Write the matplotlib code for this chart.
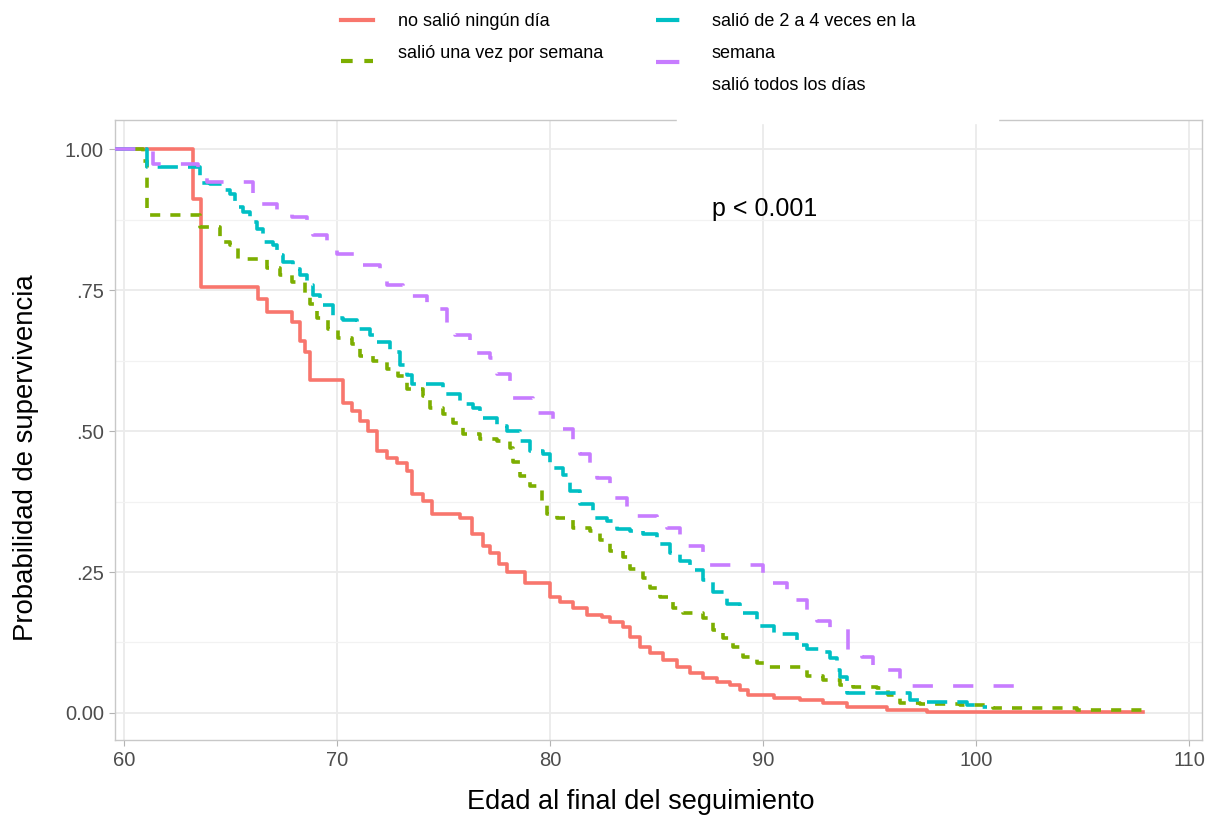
import numpy as np
import matplotlib.pyplot as plt
from matplotlib.lines import Line2D
from matplotlib.patches import Rectangle

plt.rcParams['font.family'] = ['Liberation Sans', 'DejaVu Sans']

# Kaplan-Meier estimates (time, survival after step)
t_ninguno = [59.58, 63.24, 63.62, 66.29, 66.71, 67.89, 68.26, 68.5, 68.73, 70.28,
             70.7, 71.08, 71.46, 71.88, 72.35, 72.82, 73.29, 73.52, 74.04, 74.46,
             75.77, 76.34, 76.85, 77.2, 77.6, 77.98, 78.83, 80.0, 80.47, 81.08,
             81.74, 82.44, 82.82, 83.43, 83.76, 84.23, 84.69, 85.31, 85.96, 86.57,
             87.18, 87.84, 88.45, 88.92, 89.3, 90.5, 91.74, 92.82, 93.94, 95.82,
             97.7, 107.84]
s_ninguno = [1.0, 0.912, 0.755, 0.735, 0.712, 0.694, 0.66, 0.64, 0.59, 0.55,
             0.535, 0.518, 0.50, 0.465, 0.452, 0.443, 0.43, 0.389, 0.376, 0.353,
             0.345, 0.318, 0.297, 0.283, 0.265, 0.25, 0.23, 0.205, 0.196, 0.186,
             0.173, 0.17, 0.161, 0.152, 0.134, 0.117, 0.106, 0.094, 0.081, 0.07,
             0.062, 0.055, 0.049, 0.04, 0.032, 0.027, 0.023, 0.018, 0.011, 0.005,
             0.002, 0.002]

t_semana = [59.58, 60.9, 61.08, 63.57, 64.51, 64.98, 65.35, 66.71, 67.32, 67.89,
            68.5, 68.73, 69.06, 69.58, 70.05, 70.7, 71.08, 71.69, 72.35, 72.86,
            73.29, 74.04, 74.37, 74.98, 75.45, 75.92, 76.71, 77.51, 78.12, 78.26,
            78.59, 79.06, 79.62, 79.86, 80.33, 81.08, 81.88, 82.35, 82.82, 83.43,
            83.76, 84.37, 84.69, 85.16, 85.77, 86.24, 87.18, 87.65, 88.12, 88.59,
            89.06, 89.72, 90.2, 92.07, 92.82, 93.62, 94.23, 95.35, 95.87, 96.43,
            97.37, 99.25, 100.8, 104.74, 107.84]
s_semana = [1.0, 0.98, 0.883, 0.862, 0.836, 0.83, 0.806, 0.79, 0.777, 0.765,
            0.745, 0.726, 0.70, 0.682, 0.666, 0.654, 0.633, 0.624, 0.611, 0.597,
            0.574, 0.563, 0.541, 0.53, 0.514, 0.495, 0.486, 0.482, 0.47, 0.445,
            0.42, 0.403, 0.376, 0.353, 0.345, 0.329, 0.322, 0.306, 0.288, 0.276,
            0.256, 0.24, 0.221, 0.205, 0.187, 0.177, 0.168, 0.147, 0.133, 0.117,
            0.099, 0.088, 0.081, 0.066, 0.058, 0.049, 0.046, 0.044, 0.032, 0.018,
            0.016, 0.014, 0.009, 0.005, 0.005]

t_2a4 = [59.58, 61.08, 63.57, 64.04, 64.65, 64.98, 65.21, 65.59, 65.92, 66.24,
         66.53, 67.0, 67.18, 67.46, 67.93, 68.26, 68.59, 68.87, 69.2, 69.81,
         70.28, 70.94, 71.55, 71.88, 72.49, 72.96, 73.29, 73.5, 74.98, 75.77,
         76.38, 76.71, 77.51, 77.98, 78.59, 79.06, 79.67, 80.0, 80.61, 80.94,
         81.41, 82.02, 82.68, 83.15, 83.76, 84.37, 85.02, 85.63, 86.1, 86.57,
         87.18, 87.65, 88.31, 88.92, 89.72, 90.5, 91.6, 92.07, 92.82, 93.15,
         93.47, 93.62, 93.94, 96.9, 97.7, 99.58, 100.19, 100.52]
s_2a4 = [1.0, 0.968, 0.94, 0.938, 0.928, 0.92, 0.897, 0.888, 0.871, 0.859,
         0.836, 0.83, 0.813, 0.80, 0.788, 0.777, 0.76, 0.742, 0.724, 0.70,
         0.698, 0.682, 0.671, 0.659, 0.641, 0.618, 0.60, 0.583, 0.565, 0.548,
         0.541, 0.523, 0.509, 0.50, 0.482, 0.465, 0.459, 0.435, 0.422, 0.394,
         0.371, 0.346, 0.341, 0.327, 0.323, 0.318, 0.30, 0.283, 0.27, 0.253,
         0.235, 0.214, 0.194, 0.178, 0.155, 0.14, 0.12, 0.114, 0.108, 0.097,
         0.076, 0.064, 0.035, 0.023, 0.019, 0.014, 0.011, 0.011]

t_todos = [59.58, 61.36, 63.47, 63.9, 66.06, 66.38, 67.18, 67.89, 68.59, 68.87,
           69.53, 70.0, 70.85, 71.22, 72.02, 72.35, 73.1, 73.43, 74.23, 74.74,
           75.16, 75.54, 76.24, 76.57, 77.18, 77.51, 78.12, 78.26, 79.2, 79.44,
           80.14, 80.61, 81.08, 81.41, 81.88, 82.21, 82.82, 82.96, 83.62, 84.08,
           85.02, 85.49, 86.1, 86.48, 87.18, 87.51, 90.0, 90.47, 91.13, 91.5,
           92.07, 92.54, 93.15, 93.99, 94.65, 95.16, 95.73, 96.43, 96.57, 102.68]
s_todos = [1.0, 0.974, 0.954, 0.942, 0.919, 0.903, 0.885, 0.88, 0.862, 0.848,
           0.832, 0.814, 0.806, 0.795, 0.774, 0.76, 0.753, 0.739, 0.726, 0.716,
           0.682, 0.671, 0.656, 0.638, 0.629, 0.602, 0.583, 0.558, 0.55, 0.532,
           0.512, 0.504, 0.477, 0.459, 0.433, 0.417, 0.40, 0.382, 0.364, 0.35,
           0.341, 0.329, 0.309, 0.297, 0.276, 0.262, 0.244, 0.231, 0.212, 0.20,
           0.177, 0.164, 0.15, 0.106, 0.099, 0.081, 0.076, 0.053, 0.048, 0.048]

etiquetas = ["no salió ningún día", "salió una vez por semana",
             "salió de 2 a 4 veces en la\nsemana", "salió todos los días"]
colores = ["#F8766D", "#7CAE00", "#00BFC4", "#C77CFF"]
estilos = ["-", (0, (2.8, 2.8)), (0, (5.6, 2.8)), (0, (5.6, 5.6))]

x_ticks = [60, 70, 80, 90, 100, 110]
y_ticks = [0.0, 0.25, 0.5, 0.75, 1.0]
y_labels = ["0.00", ".25", ".50", ".75", "1.00"]

W, H = 1216, 818
fig = plt.figure(figsize=(W / 100, H / 100), dpi=100)
ax = fig.add_axes([115 / W, 1 - 740 / H, 1087 / W, 620 / H])

series = [(t_ninguno, s_ninguno), (t_semana, s_semana), (t_2a4, s_2a4), (t_todos, s_todos)]
for (t, s), c, ls in zip(series, colores, estilos):
    ax.step(t, s, where="post", color=c, lw=2.6, linestyle=ls, zorder=3)

ax.set_xlim(59.58, 110.6)
ax.set_ylim(-0.048, 1.052)
ax.set_xticks(x_ticks)
ax.set_yticks(y_ticks)
ax.set_yticklabels(y_labels)
ax.set_yticks(np.arange(0.125, 1.0, 0.25), minor=True)
ax.grid(True, which="major", color="#EBEBEB", lw=1.3, zorder=0)
ax.grid(True, which="minor", axis="y", color="#F2F2F2", lw=0.9, zorder=0)
ax.set_axisbelow(True)
ax.tick_params(which="major", length=4, color="#B3B3B3", labelsize=14.5, labelcolor="#4D4D4D", pad=4)
ax.tick_params(which="minor", length=0)
for sp in ax.spines.values():
    sp.set_color("#C8C8C8")
    sp.set_linewidth(1.0)

ax.set_xlabel("Edad al final del seguimiento", fontsize=19.5)
ax.set_ylabel("Probabilidad de supervivencia", fontsize=19.8)
ax.xaxis.set_label_coords(0.484, -0.079)
ax.yaxis.set_label_coords(-0.070, 0.456)

ax.text(87.6, 0.894, "p < 0.001", fontsize=18, ha="left", va="center")

# gap in the top border where the legend box sits
fig.add_artist(Rectangle((677 / W, 1 - 123 / H), (998 - 677) / W, 8 / H,
                         transform=fig.transFigure, color="white", zorder=10))

# legend (two columns, drawn by hand to keep the original arrangement)
def fx(px):
    return px / W


def fy(py):
    return 1 - py / H


claves = [(341, 20), (341, 61), (656, 20), (656, 62)]
for (kx, ky), c, ls in zip(claves, colores, estilos):
    fig.add_artist(Line2D([fx(kx), fx(kx + 32)], [fy(ky), fy(ky)], color=c,
                          lw=3, linestyle=ls, transform=fig.transFigure))
fig.text(fx(398), fy(21), etiquetas[0], fontsize=13, va="center")
fig.text(fx(398), fy(53), etiquetas[1], fontsize=13, va="center")
fig.text(fx(712), fy(21), etiquetas[2].split("\n")[0], fontsize=13, va="center")
fig.text(fx(712), fy(53), etiquetas[2].split("\n")[1], fontsize=13, va="center")
fig.text(fx(712), fy(85), etiquetas[3], fontsize=13, va="center")

fig.savefig("out.png", dpi=100)
